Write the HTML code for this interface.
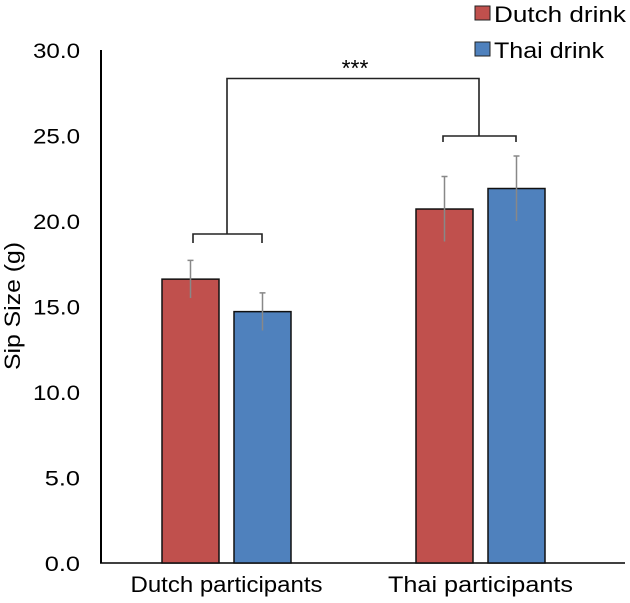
<!DOCTYPE html>
<html><head><meta charset="utf-8"><style>
body{margin:0;background:#fff;}
svg{display:block;font-family:"Liberation Sans",Arial,sans-serif;}
</style></head><body>
<svg id="chart" width="630" height="603" viewBox="0 0 630 603">
<g id="axes"></g><g id="bars"></g>
<g fill="none" stroke="#222" stroke-width="1.6">
<path d="M193 243 V234 H262 V243"/>
<path d="M443 142 V136 H516 V142"/>
<path d="M227 234 V78.5 H479 V136"/>
</g>
<text x="355" y="76" text-anchor="middle" font-size="23">***</text>
<g>
<rect x="475" y="6" width="15" height="14" fill="#c0504d" stroke="#222" stroke-width="1"/>
<text x="494" y="22" font-size="22" textLength="132" lengthAdjust="spacingAndGlyphs">Dutch drink</text>
<rect x="475" y="42" width="15" height="14" fill="#4f81bd" stroke="#222" stroke-width="1"/>
<text x="494" y="58" font-size="22" textLength="110" lengthAdjust="spacingAndGlyphs">Thai drink</text>
</g>
<text transform="translate(20,306) rotate(-90)" text-anchor="middle" font-size="22" textLength="128" lengthAdjust="spacingAndGlyphs">Sip Size (g)</text>
</svg>
<script>
const categories=["Dutch participants","Thai participants"];
const dutchDrink=[16.6,20.7];
const thaiDrink=[14.7,21.9];
const dutchErr=[1.1,1.9];
const thaiErr=[1.1,1.9];
const yTicks=[0,5,10,15,20,25,30];
const NS="http://www.w3.org/2000/svg";
const y0=563,y1=50,yMax=30;
const y=v=>y0-(v/yMax)*(y0-y1);
const groupLeft=[162,416],barW=57,gap=15;
const labelLen=[192,185];
function mk(t,a,p){const e=document.createElementNS(NS,t);for(const k in a)e.setAttribute(k,a[k]);p.appendChild(e);return e;}
const ax=document.getElementById('axes'),bars=document.getElementById('bars');
const yl=mk('line',{x1:101,x2:101,y1:y1,y2:y0,stroke:'#000','stroke-width':2},ax);


const xl=mk('line',{x1:100,x2:625,y1:y0,y2:y0,stroke:'#000','stroke-width':1.5},ax);


yTicks.forEach(v=>{const s=v.toFixed(1);const t=mk('text',{x:80,y:y(v)+8,'text-anchor':'end','font-size':21,textLength:s.length*11.75,lengthAdjust:'spacingAndGlyphs'},ax);t.textContent=s;

});
categories.forEach((c,i)=>{
 const t=mk('text',{x:groupLeft[i]+barW+gap/2,y:592,'text-anchor':'middle','font-size':22,textLength:labelLen[i],lengthAdjust:'spacingAndGlyphs'},ax);t.textContent=c;
 
 
 [[dutchDrink,dutchErr,'#c0504d','dutch'],[thaiDrink,thaiErr,'#4f81bd','thai']].forEach((s,j)=>{
  const x=groupLeft[i]+j*(barW+gap),v=s[0][i],e=s[1][i];
  const r=mk('rect',{x:x,y:y(v),width:barW,height:y0-y(v),fill:s[2],stroke:'#111','stroke-width':1.5},bars);
  
  
  const cx=x+barW/2;
  const eb=mk('path',{d:`M${cx} ${y(v+e)} V${y(v-e)} M${cx-3} ${y(v+e)} H${cx+3}`,stroke:'#888','stroke-width':1.5,fill:'none'},bars);
  
  
 });
});
</script>
</body></html>
